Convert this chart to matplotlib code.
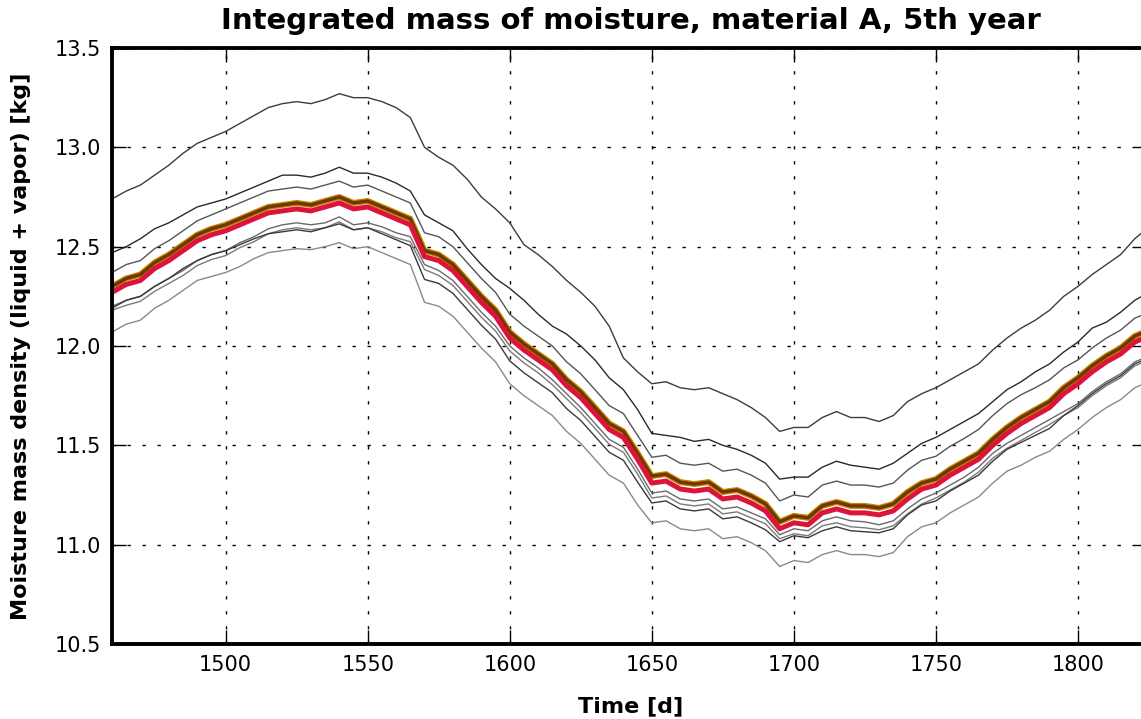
import matplotlib
matplotlib.use("Agg")
import matplotlib.pyplot as plt

# sample days (every 5 days of the 5th year)
days = list(range(1460, 1826, 5))

# thick curves
red_curve = [
    12.27, 12.31, 12.33, 12.39, 12.43, 12.48, 12.53, 12.56, 12.58, 12.61,
    12.64, 12.67, 12.68, 12.69, 12.68, 12.70, 12.72, 12.69, 12.70, 12.67,
    12.64, 12.61, 12.45, 12.43, 12.38, 12.30, 12.22, 12.15, 12.04, 11.98,
    11.93, 11.88, 11.80, 11.74, 11.66, 11.58, 11.54, 11.43, 11.31, 11.32,
    11.28, 11.27, 11.28, 11.23, 11.24, 11.21, 11.17, 11.08, 11.11, 11.10,
    11.16, 11.18, 11.16, 11.16, 11.15, 11.17, 11.23, 11.28, 11.30, 11.35,
    11.39, 11.43, 11.50, 11.56, 11.61, 11.65, 11.69, 11.76, 11.81, 11.87,
    11.92, 11.96, 12.02, 12.05]
brown_curve = [
    12.30, 12.34, 12.36, 12.42, 12.46, 12.51, 12.56, 12.59, 12.61, 12.64,
    12.67, 12.70, 12.71, 12.72, 12.71, 12.73, 12.75, 12.72, 12.73, 12.70,
    12.67, 12.64, 12.48, 12.46, 12.41, 12.33, 12.25, 12.18, 12.07, 12.01,
    11.96, 11.91, 11.83, 11.77, 11.69, 11.61, 11.57, 11.46, 11.345, 11.355,
    11.315, 11.305, 11.315, 11.265, 11.275, 11.245, 11.205, 11.115, 11.145, 11.135,
    11.195, 11.215, 11.195, 11.195, 11.185, 11.205, 11.265, 11.31, 11.33, 11.38,
    11.42, 11.46, 11.53, 11.59, 11.64, 11.68, 11.72, 11.79, 11.84, 11.90,
    11.95, 11.99, 12.05, 12.08]

# thin grey curves
grey_1 = [
    12.74, 12.78, 12.81, 12.86, 12.91, 12.97, 13.02, 13.05, 13.08, 13.12,
    13.16, 13.20, 13.22, 13.23, 13.22, 13.24, 13.27, 13.25, 13.25, 13.23,
    13.20, 13.15, 13.00, 12.95, 12.91, 12.84, 12.75, 12.69, 12.62, 12.51,
    12.46, 12.40, 12.33, 12.27, 12.20, 12.10, 11.94, 11.87, 11.81, 11.82,
    11.79, 11.78, 11.79, 11.76, 11.73, 11.69, 11.64, 11.57, 11.59, 11.59,
    11.64, 11.67, 11.64, 11.64, 11.62, 11.65, 11.72, 11.76, 11.79, 11.83,
    11.87, 11.91, 11.98, 12.04, 12.09, 12.13, 12.18, 12.25, 12.30, 12.36,
    12.41, 12.46, 12.54, 12.60]
grey_2 = [
    12.47, 12.50, 12.54, 12.59, 12.62, 12.66, 12.70, 12.72, 12.74, 12.77,
    12.80, 12.83, 12.86, 12.86, 12.85, 12.87, 12.90, 12.87, 12.87, 12.85,
    12.82, 12.78, 12.66, 12.62, 12.58, 12.49, 12.41, 12.34, 12.29, 12.23,
    12.16, 12.10, 12.06, 12.00, 11.93, 11.84, 11.78, 11.68, 11.56, 11.55,
    11.54, 11.52, 11.53, 11.50, 11.48, 11.45, 11.41, 11.33, 11.34, 11.34,
    11.39, 11.42, 11.40, 11.39, 11.38, 11.41, 11.46, 11.51, 11.54, 11.58,
    11.62, 11.66, 11.72, 11.78, 11.82, 11.87, 11.91, 11.97, 12.02, 12.09,
    12.12, 12.17, 12.23, 12.27]
grey_3 = [
    12.37, 12.41, 12.43, 12.49, 12.53, 12.58, 12.63, 12.66, 12.69, 12.72,
    12.75, 12.78, 12.79, 12.80, 12.79, 12.81, 12.83, 12.80, 12.81, 12.78,
    12.75, 12.72, 12.57, 12.55, 12.50, 12.42, 12.34, 12.27, 12.16, 12.10,
    12.05, 12.00, 11.92, 11.86, 11.78, 11.70, 11.66, 11.55, 11.44, 11.45,
    11.41, 11.40, 11.41, 11.37, 11.38, 11.35, 11.31, 11.22, 11.25, 11.24,
    11.30, 11.32, 11.30, 11.30, 11.29, 11.31, 11.375, 11.425, 11.445, 11.495,
    11.535, 11.58, 11.65, 11.71, 11.755, 11.79, 11.83, 11.89, 11.93, 11.99,
    12.04, 12.08, 12.14, 12.17]
grey_4 = [
    12.20, 12.23, 12.25, 12.30, 12.34, 12.38, 12.43, 12.46, 12.48, 12.52,
    12.55, 12.59, 12.61, 12.62, 12.61, 12.62, 12.65, 12.61, 12.62, 12.60,
    12.57, 12.55, 12.41, 12.38, 12.33, 12.25, 12.17, 12.10, 12.00, 11.94,
    11.89, 11.83, 11.76, 11.69, 11.61, 11.53, 11.49, 11.38, 11.26, 11.27,
    11.23, 11.22, 11.23, 11.18, 11.19, 11.16, 11.13, 11.05, 11.08, 11.07,
    11.12, 11.14, 11.12, 11.115, 11.10, 11.12, 11.18, 11.23, 11.26, 11.30,
    11.34, 11.39, 11.46, 11.51, 11.55, 11.59, 11.63, 11.67, 11.71, 11.77,
    11.82, 11.86, 11.92, 11.95]
grey_5 = [
    12.18, 12.205, 12.225, 12.275, 12.315, 12.355, 12.405, 12.435, 12.455, 12.495,
    12.525, 12.565, 12.585, 12.595, 12.585, 12.595, 12.625, 12.585, 12.595, 12.575,
    12.545, 12.525, 12.385, 12.355, 12.305, 12.225, 12.145, 12.075, 11.975, 11.915,
    11.865, 11.805, 11.735, 11.665, 11.585, 11.505, 11.465, 11.355, 11.235, 11.245,
    11.205, 11.195, 11.205, 11.155, 11.165, 11.135, 11.105, 11.03, 11.055, 11.045,
    11.095, 11.11, 11.09, 11.085, 11.075, 11.095, 11.155, 11.205, 11.235, 11.275,
    11.315, 11.365, 11.435, 11.485, 11.525, 11.565, 11.605, 11.65, 11.69, 11.75,
    11.80, 11.84, 11.90, 11.93]
grey_6 = [
    12.19, 12.23, 12.25, 12.30, 12.34, 12.39, 12.43, 12.46, 12.48, 12.51,
    12.54, 12.565, 12.575, 12.585, 12.575, 12.595, 12.615, 12.585, 12.595, 12.565,
    12.535, 12.505, 12.335, 12.315, 12.265, 12.185, 12.105, 12.035, 11.925, 11.865,
    11.815, 11.765, 11.685, 11.625, 11.545, 11.465, 11.425, 11.315, 11.21, 11.22,
    11.18, 11.17, 11.18, 11.13, 11.14, 11.11, 11.075, 11.015, 11.045, 11.035,
    11.07, 11.09, 11.07, 11.065, 11.06, 11.08, 11.15, 11.20, 11.22, 11.27,
    11.31, 11.35, 11.42, 11.48, 11.515, 11.55, 11.585, 11.65, 11.70, 11.76,
    11.81, 11.85, 11.91, 11.94]
grey_7 = [
    12.07, 12.11, 12.13, 12.19, 12.23, 12.28, 12.33, 12.35, 12.37, 12.40,
    12.44, 12.47, 12.48, 12.49, 12.485, 12.50, 12.52, 12.49, 12.50, 12.47,
    12.44, 12.41, 12.22, 12.20, 12.15, 12.07, 11.99, 11.92, 11.81, 11.75,
    11.70, 11.65, 11.57, 11.51, 11.43, 11.35, 11.31, 11.20, 11.11, 11.12,
    11.08, 11.07, 11.08, 11.03, 11.04, 11.01, 10.97, 10.89, 10.92, 10.91,
    10.95, 10.97, 10.95, 10.95, 10.94, 10.96, 11.04, 11.09, 11.11, 11.16,
    11.20, 11.24, 11.31, 11.37, 11.40, 11.44, 11.47, 11.53, 11.58, 11.64,
    11.69, 11.73, 11.79, 11.82]

greys = [grey_1, grey_2, grey_3, grey_4, grey_5, grey_6, grey_7]
grey_colors = ['#3c3c3c', '#2a2a2a', '#555555', '#6a6a6a', '#7a7a7a', '#3a3a3a', '#8a8a8a']

fig = plt.figure(figsize=(11.41, 7.19), dpi=100)
ax = fig.add_axes([112 / 1141, 75 / 719, 1037 / 1141, 596 / 719])

for ys, c in zip(greys, grey_colors):
    ax.plot(days, ys, color=c, lw=1.0)

ax.plot(days, brown_curve, color='#c88400', lw=4.3, solid_joinstyle='round')
ax.plot(days, brown_curve, color='#6b3800', lw=2.4, solid_joinstyle='round')
ax.plot(days, red_curve, color='#dc143c', lw=3.6, solid_joinstyle='round')

ax.set_xlim(1460, 1825)
ax.set_ylim(10.5, 13.5)
ax.set_xticks([1500, 1550, 1600, 1650, 1700, 1750, 1800])
ax.set_yticks([10.5, 11.0, 11.5, 12.0, 12.5, 13.0, 13.5])
ax.set_yticklabels(['10.5', '11.0', '11.5', '12.0', '12.5', '13.0', '13.5'])

ax.grid(True, color='black', lw=1.0, linestyle=(0, (2.4, 8.4)))
ax.tick_params(direction='in', length=10, width=1, labelsize=15, pad=8,
               top=True, right=True)
for s in ax.spines.values():
    s.set_linewidth(2.8)

ax.set_title('Integrated mass of moisture, material A, 5th year',
             fontsize=21, fontweight='bold', pad=14)
ax.set_xlabel('Time [d]', fontsize=16, fontweight='bold', labelpad=15)
ax.set_ylabel('Moisture mass density (liquid + vapor) [kg]', fontsize=16,
              fontweight='bold', labelpad=17)

fig.savefig('out.png', dpi=100)
